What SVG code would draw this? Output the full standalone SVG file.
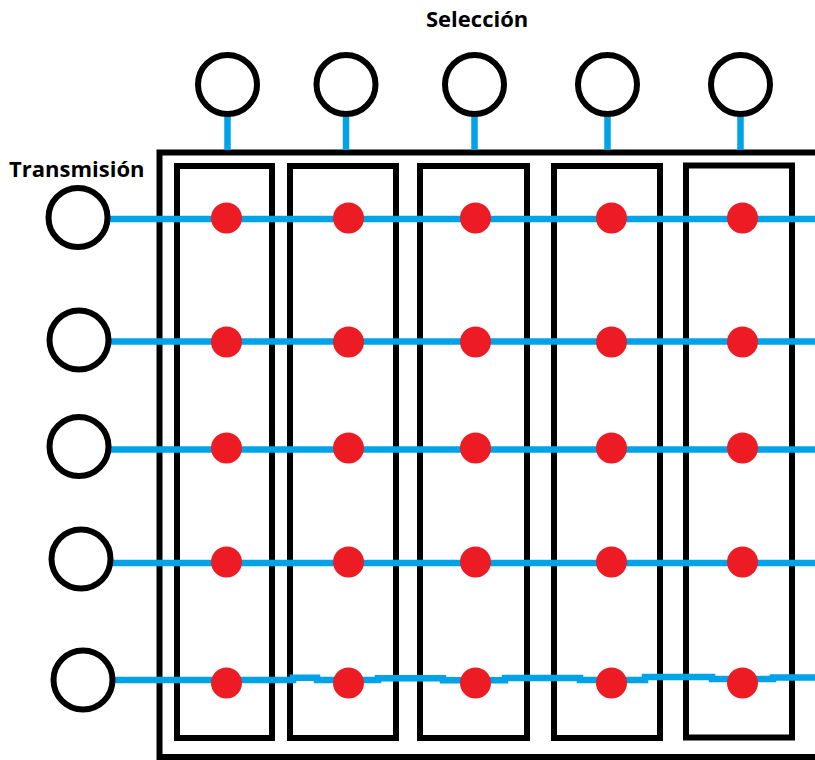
<svg xmlns="http://www.w3.org/2000/svg" width="815" height="760" viewBox="0 0 815 760">
<style>
.port{fill:#fff;stroke:#000;stroke-width:6}
.box{fill:none;stroke:#000;stroke-width:6}
.wire{fill:none;stroke:#00A2E8;stroke-width:6.5}
.dot{fill:#ED1C24}
.lbl{font-family:"Open Sans","DejaVu Sans",sans-serif;font-weight:bold;font-size:22px;fill:#000}
</style>
<rect width="815" height="760" fill="#fff"/>
<g id="frame">
<path class="box" d="M820,152.5 H159.5 V757 H820"/>
</g>
<g id="columns">
<rect id="col1" class="box" x="177" y="166" width="95" height="572"/>
<rect id="col2" class="box" x="290" y="166" width="106" height="572"/>
<rect id="col3" class="box" x="420" y="166" width="107" height="572"/>
<rect id="col4" class="box" x="554" y="166" width="106" height="572"/>
<rect id="col5" class="box" x="686" y="165.5" width="106" height="572"/>
</g>
<g id="connectors">
<line class="wire" x1="227.5" y1="114" x2="227.5" y2="150"/>
<line class="wire" x1="346" y1="114" x2="346" y2="150"/>
<line class="wire" x1="474.5" y1="114" x2="474.5" y2="150"/>
<line class="wire" x1="607.5" y1="114" x2="607.5" y2="150"/>
<line class="wire" x1="740.5" y1="114" x2="740.5" y2="150"/>
<line class="wire" x1="106" y1="219" x2="815" y2="219"/>
<line class="wire" x1="108" y1="341.5" x2="815" y2="341.5"/>
<line class="wire" x1="108" y1="449.5" x2="815" y2="449.5"/>
<line class="wire" x1="110" y1="563" x2="815" y2="563"/>
<polyline class="wire" points="114,680 293,680 293,677.7 317,677.7 317,680 378,680 378,678.3 443,678.3 443,680.3 505,680.3 505,678 580,678 580,680 645,680 645,677 712,677 712,679 773,679 773,677.5 815,677.5"/>
</g>
<g id="selection-label"><text class="lbl" x="426" y="26.5">Selección</text></g>
<g id="transmission-label"><text class="lbl" x="9" y="176.5">Transmisión</text></g>
<g id="sel1"><circle class="port" cx="227.5" cy="84.5" r="29.5"/></g>
<g id="sel2"><circle class="port" cx="346" cy="84.5" r="29.5"/></g>
<g id="sel3"><circle class="port" cx="474.5" cy="84.5" r="29.5"/></g>
<g id="sel4"><circle class="port" cx="607.5" cy="84.5" r="29.5"/></g>
<g id="sel5"><circle class="port" cx="740.5" cy="84.5" r="29.5"/></g>
<g id="tx1"><circle class="port" cx="78" cy="217.5" r="29.5"/></g>
<g id="tx2"><circle class="port" cx="79" cy="340" r="29.5"/></g>
<g id="tx3"><circle class="port" cx="79" cy="446.5" r="29.5"/></g>
<g id="tx4"><circle class="port" cx="81" cy="559" r="29.5"/></g>
<g id="tx5"><circle class="port" cx="83" cy="680" r="29.5"/></g>
<g id="dots">
<circle class="dot" cx="226.5" cy="218" r="15.5"/>
<circle class="dot" cx="348.5" cy="218" r="15.5"/>
<circle class="dot" cx="475.5" cy="218" r="15.5"/>
<circle class="dot" cx="611.5" cy="218" r="15.5"/>
<circle class="dot" cx="742.5" cy="218" r="15.5"/>
<circle class="dot" cx="226.5" cy="342" r="15.5"/>
<circle class="dot" cx="348.5" cy="342" r="15.5"/>
<circle class="dot" cx="475.5" cy="342" r="15.5"/>
<circle class="dot" cx="611.5" cy="342" r="15.5"/>
<circle class="dot" cx="742.5" cy="342" r="15.5"/>
<circle class="dot" cx="226.5" cy="448" r="15.5"/>
<circle class="dot" cx="348.5" cy="448" r="15.5"/>
<circle class="dot" cx="475.5" cy="448" r="15.5"/>
<circle class="dot" cx="611.5" cy="448" r="15.5"/>
<circle class="dot" cx="742.5" cy="448" r="15.5"/>
<circle class="dot" cx="226.5" cy="562" r="15.5"/>
<circle class="dot" cx="348.5" cy="562" r="15.5"/>
<circle class="dot" cx="475.5" cy="562" r="15.5"/>
<circle class="dot" cx="611.5" cy="562" r="15.5"/>
<circle class="dot" cx="742.5" cy="562" r="15.5"/>
<circle class="dot" cx="226.5" cy="683" r="15.5"/>
<circle class="dot" cx="348.5" cy="683" r="15.5"/>
<circle class="dot" cx="475.5" cy="683" r="15.5"/>
<circle class="dot" cx="611.5" cy="683" r="15.5"/>
<circle class="dot" cx="742.5" cy="683" r="15.5"/>
</g>
</svg>
